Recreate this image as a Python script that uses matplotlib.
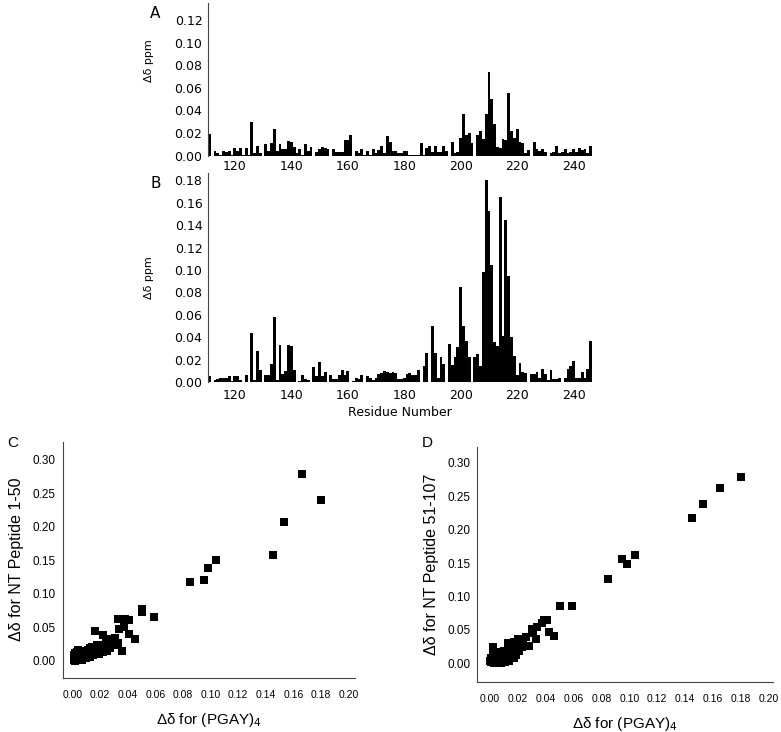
import matplotlib
matplotlib.use("Agg")
import matplotlib.pyplot as plt
import numpy as np

# residue numbers shown on the bar charts
residues = np.arange(111, 247)

# panel A : chemical shift change (ppm)
shiftA = [0.019, 0, 0.004, 0.002, 0.001, 0.004, 0.003, 0.004, 0.001, 0.007,
          0.004, 0.007, 0.001, 0.007, 0.001, 0.030, 0.002, 0.009, 0.002, 0,
          0.010, 0.004, 0.011, 0.024, 0.004, 0.010, 0.006, 0.006, 0.013, 0.012,
          0.008, 0.002, 0.006, 0.001, 0.010, 0.004, 0.008, 0, 0.003, 0.006,
          0.008, 0.007, 0.006, 0, 0.006, 0.003, 0.003, 0.003, 0.014, 0.014,
          0.018, 0, 0.004, 0.002, 0.006, 0.001, 0.004, 0.001, 0.006, 0.002,
          0.005, 0.009, 0.002, 0.017, 0.012, 0.004,
          0.004, 0.002, 0.002, 0.004, 0.004, 0.001, 0.001, 0.001, 0.001, 0.011,
          0.001, 0.007, 0.009, 0.003, 0.009, 0.003, 0.003, 0.009, 0.004, 0,
          0.012, 0.002, 0.003, 0.016, 0.037, 0.018, 0.020, 0.011, 0, 0.018,
          0.022, 0.015, 0.037, 0.074, 0.050, 0.028, 0.008, 0.007, 0.015, 0.014,
          0.055, 0.022, 0.016, 0.024, 0.012, 0.011, 0.002, 0.005, 0, 0.012,
          0.006, 0.004, 0.006, 0.003, 0, 0.002, 0.003, 0.009, 0.002, 0.003,
          0.006, 0.002, 0.003, 0.006, 0.003, 0.007, 0.005, 0.006, 0.002, 0.009]

# panel B : (PGAY)4
shiftB = [0.005, 0, 0.002, 0.003, 0.004, 0.004, 0.004, 0.005, 0.001, 0.005,
          0.005, 0.002, 0, 0.006, 0, 0.044, 0.002, 0.028, 0.011, 0,
          0.006, 0.006, 0.016, 0.058, 0.002, 0.033, 0.007, 0.010, 0.033, 0.032,
          0.011, 0, 0.001, 0.006, 0.003, 0.002, 0, 0.013, 0.005, 0.018,
          0.005, 0.009, 0, 0.006, 0.003, 0.003, 0.006, 0.011, 0.006, 0.010,
          0, 0.001, 0.004, 0.003, 0.006, 0, 0.005, 0.004, 0.002, 0.004,
          0.007, 0.008, 0.010, 0.009, 0.008, 0.009,
          0.008, 0.003, 0.003, 0.004, 0.007, 0.008, 0.006, 0.006, 0.011, 0,
          0.014, 0.026, 0,
          0.050, 0.026, 0.004, 0.022, 0.016, 0, 0.034, 0.015, 0.022, 0.031,
          0.085, 0.050, 0.037, 0.022, 0, 0.022, 0.025, 0.014, 0.098, 0.180,
          0.153, 0.104, 0.036, 0.032, 0.165, 0.041, 0.145, 0.095, 0.040, 0.023,
          0.006, 0.017, 0.009, 0.008, 0, 0.007, 0.007, 0.009, 0.004, 0.012,
          0.007, 0.002, 0.011, 0.003, 0.003, 0.004, 0, 0.004, 0.012, 0.014,
          0.019, 0.004, 0.004, 0.009, 0.004, 0.012, 0.037]

# panel C : (PGAY)4 vs NT peptide 1-50
cX = [0.166, 0.180, 0.153, 0.145, 0.104, 0.098, 0.095, 0.085, 0.050, 0.050,
      0.059, 0.033, 0.038, 0.041, 0.037, 0.034, 0.041, 0.045, 0.036, 0.016,
      0.022, 0.033, 0.031, 0.028, 0.024, 0.027, 0.020, 0.018, 0.014, 0.025,
      0.001, 0.002, 0.002, 0.003, 0.003, 0.004, 0.004, 0.005, 0.005, 0.006,
      0.006, 0.007, 0.007, 0.008, 0.008, 0.009, 0.009, 0.010, 0.010, 0.011,
      0.012, 0.012, 0.013, 0.013, 0.014, 0.015, 0.015, 0.016, 0.017, 0.018,
      0.019, 0.020, 0.021, 0.022, 0.023, 0.024, 0.025, 0.027, 0.028, 0.031,
      0.002, 0.001, 0.003, 0.004]
cY = [0.279, 0.240, 0.207, 0.158, 0.151, 0.138, 0.121, 0.117, 0.078, 0.073,
      0.066, 0.063, 0.063, 0.061, 0.051, 0.047, 0.040, 0.033, 0.015, 0.044,
      0.039, 0.027, 0.034, 0.032, 0.027, 0.020, 0.021, 0.024, 0.021, 0.015,
      0.002, 0.000, 0.005, 0.003, 0.008, 0.001, 0.006, 0.010, 0.003, 0.007,
      0.013, 0.002, 0.009, 0.005, 0.012, 0.015, 0.008, 0.004, 0.011, 0.017,
      0.009, 0.014, 0.006, 0.019, 0.012, 0.016, 0.009, 0.021, 0.013, 0.018,
      0.011, 0.016, 0.024, 0.014, 0.020, 0.017, 0.023, 0.019, 0.030, 0.024,
      0.012, 0.009, 0.014, 0.017]

# panel D : (PGAY)4 vs NT peptide 51-107
dX = [0.180, 0.165, 0.153, 0.145, 0.104, 0.098, 0.095, 0.085, 0.059, 0.050,
      0.039, 0.041, 0.037, 0.034, 0.042, 0.046, 0.033, 0.031, 0.030, 0.026,
      0.024, 0.028, 0.020, 0.017, 0.013, 0.019, 0.023, 0.014, 0.002,
      0.001, 0.002, 0.002, 0.003, 0.003, 0.004, 0.004, 0.005, 0.005, 0.006,
      0.006, 0.007, 0.007, 0.008, 0.008, 0.009, 0.009, 0.010, 0.010, 0.011,
      0.011, 0.012, 0.012, 0.013, 0.013, 0.014, 0.015, 0.015, 0.016, 0.017,
      0.018, 0.019, 0.020, 0.021, 0.022, 0.001, 0.002, 0.000]
dY = [0.278, 0.262, 0.238, 0.217, 0.162, 0.148, 0.156, 0.126, 0.085, 0.086,
      0.065, 0.065, 0.060, 0.055, 0.047, 0.041, 0.036, 0.045, 0.052, 0.039,
      0.034, 0.026, 0.036, 0.032, 0.031, 0.015, 0.025, 0.022, 0.025,
      0.002, 0.006, 0.012, 0.001, 0.009, 0.004, 0.015, 0.000, 0.008, 0.003,
      0.012, 0.006, 0.017, 0.001, 0.010, 0.014, 0.005, 0.019, 0.008, 0.002,
      0.013, 0.016, 0.006, 0.021, 0.010, 0.004, 0.014, 0.024, 0.018, 0.008,
      0.022, 0.012, 0.027, 0.018, 0.030, 0.008, 0.018, 0.004]

resTicks = [120, 140, 160, 180, 200, 220, 240]
spineCol = "#444444"

fig = plt.figure(figsize=(7.81, 7.32), dpi=100)

def barPanel(rect, vals, ytop, yticks, letter, labelY):
    ax = fig.add_axes(rect)
    ax.bar(residues, vals, width=1.0, color="black", linewidth=0)
    ax.set_xlim(110.5, 246.5)
    ax.set_ylim(0, ytop)
    ax.set_yticks(yticks)
    ax.set_yticklabels(["%.2f" % v for v in yticks])
    ax.set_xticks(resTicks)
    for s in ["top", "right", "bottom"]:
        ax.spines[s].set_visible(False)
    ax.spines["left"].set_color(spineCol)
    ax.tick_params(length=0, labelsize=9, colors="black")
    ax.tick_params(axis="y", pad=4)
    ax.tick_params(axis="x", pad=3)
    ax.set_ylabel("Δδ ppm", fontsize=8)
    ax.yaxis.set_label_coords(-0.14, labelY)
    fig.text(150 / 781, ax.get_position().y1 - 0.014, letter, fontsize=11,
             va="center", ha="left")
    return ax

axA = barPanel([0.2663, 0.7873, 0.4917, 0.2086], shiftA, 0.135,
               [0, 0.02, 0.04, 0.06, 0.08, 0.10, 0.12], "A", 0.62)
axB = barPanel([0.2663, 0.4781, 0.4917, 0.2855], shiftB, 0.1865,
               [0, 0.02, 0.04, 0.06, 0.08, 0.10, 0.12, 0.14, 0.16, 0.18], "B", 0.5)
axB.tick_params(axis="x", pad=5)
axB.set_xlabel("Residue Number", fontsize=9, labelpad=3)

def scatterPanel(rect, xs, ys, xlim, ylim, ylabel, letter, lx):
    ax = fig.add_axes(rect)
    ax.scatter(xs, ys, marker="s", s=26, color="black", linewidths=0)
    ax.set_xlim(*xlim)
    ax.set_ylim(*ylim)
    ax.set_xticks(np.arange(0, 0.201, 0.02))
    ax.set_xticklabels(["%.2f" % v for v in np.arange(0, 0.201, 0.02)])
    ax.set_yticks(np.arange(0, 0.301, 0.05))
    ax.set_yticklabels(["%.2f" % v for v in np.arange(0, 0.301, 0.05)])
    for s in ["top", "right"]:
        ax.spines[s].set_visible(False)
    for s in ["left", "bottom"]:
        ax.spines[s].set_color(spineCol)
    ax.tick_params(length=0)
    ax.tick_params(axis="x", labelsize=7.5, pad=9)
    ax.tick_params(axis="y", labelsize=8.5, pad=5)
    for t in ax.get_xticklabels() + ax.get_yticklabels():
        t.set_family("Liberation Sans")
    ax.set_xlabel("Δδ for (PGAY)$_4$", fontsize=11, family="Liberation Sans",
                  labelpad=8)
    ax.set_ylabel(ylabel, fontsize=11.5, family="Liberation Sans", labelpad=6)
    fig.text(lx, 1 - 443 / 732, letter, fontsize=11, va="center", ha="left",
             family="Liberation Sans")
    return ax

scatterPanel([0.0803, 0.0742, 0.3742, 0.3224], cX, cY, (-0.007, 0.2044),
             (-0.025, 0.327), "Δδ for NT Peptide 1-50", "C", 7 / 781)
scatterPanel([0.6111, 0.0687, 0.3786, 0.3211], dX, dY, (-0.0091, 0.203),
             (-0.0275, 0.324), "Δδ for NT Peptide 51-107", "D", 422 / 781)

fig.savefig("out.png", dpi=100)
